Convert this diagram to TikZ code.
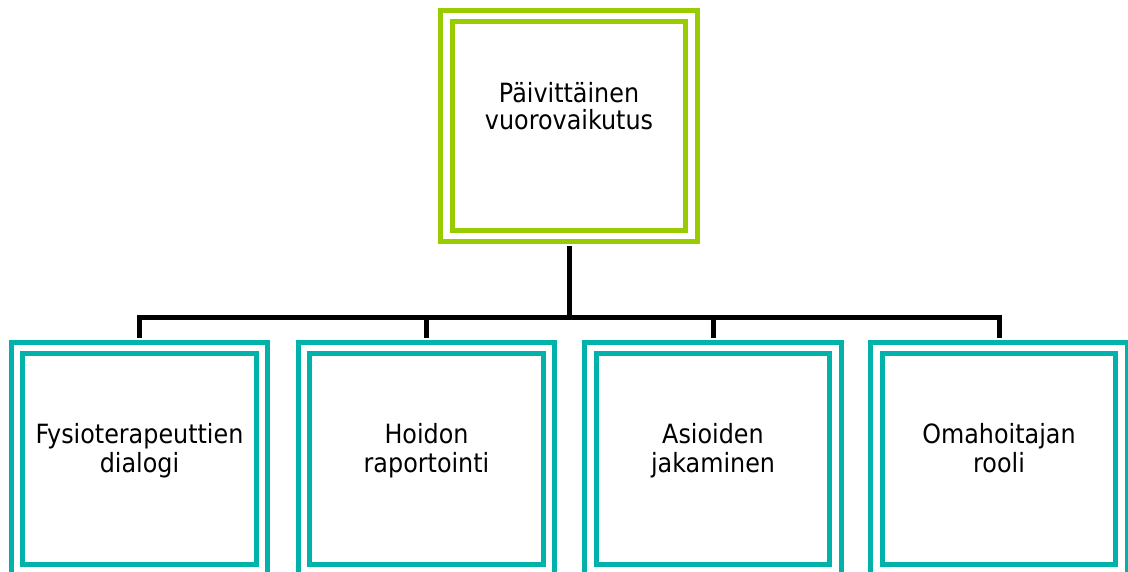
\documentclass[tikz,border=0pt]{standalone}
\usepackage{fontspec}
\setmainfont{DejaVu Sans}[FakeStretch=0.9]
\definecolor{topgreen}{RGB}{153,204,0}
\definecolor{teal}{RGB}{0,178,170}
\begin{document}
\begin{tikzpicture}[x=1pt,y=-1pt,
  box/.style={draw=#1, line width=5pt, double=white, double distance=6.5pt, minimum width=245pt, inner sep=0pt},
  lbl/.style={align=center, inner sep=0pt, anchor=base},
  conn/.style={draw=black, line width=5pt}]
\useasboundingbox (0,0) rectangle (1128,572);
\begin{scope}
\clip (0,0) rectangle (1128,572);
\node[box=topgreen, minimum height=220pt] (top) at (569,126) {};
\node[box=teal, minimum height=222pt] (b1) at (139.5,459) {};
\node[box=teal, minimum height=222pt] (b2) at (426.5,459) {};
\node[box=teal, minimum height=222pt] (b3) at (713,459) {};
\node[box=teal, minimum height=222pt] (b4) at (999,459) {};
\end{scope}
\node[lbl, font=\fontsize{26.5}{26.5}\selectfont] (t0) at (569,129.5) {Päivittäinen\\vuorovaikutus};
\node[lbl, font=\fontsize{26.5}{29}\selectfont] (t1) at (139.5,472) {Fysioterapeuttien\\dialogi};
\node[lbl, font=\fontsize{26.5}{29}\selectfont] (t2) at (426.5,472) {Hoidon\\raportointi};
\node[lbl, font=\fontsize{26.5}{29}\selectfont] (t3) at (713,472) {Asioiden\\jakaminen};
\node[lbl, font=\fontsize{26.5}{29}\selectfont] (t4) at (999,472) {Omahoitajan\\rooli};
\coordinate (j) at (569,317.5);
\draw[conn] ([yshift=-8pt]top.south) -- (j);
\draw[conn] ([yshift=8pt]b1.north) |- (j);
\draw[conn] ([yshift=8pt]b2.north) |- (j);
\draw[conn] ([yshift=8pt]b3.north) |- (j);
\draw[conn] ([yshift=8pt]b4.north) |- (j);
\end{tikzpicture}
\end{document}
